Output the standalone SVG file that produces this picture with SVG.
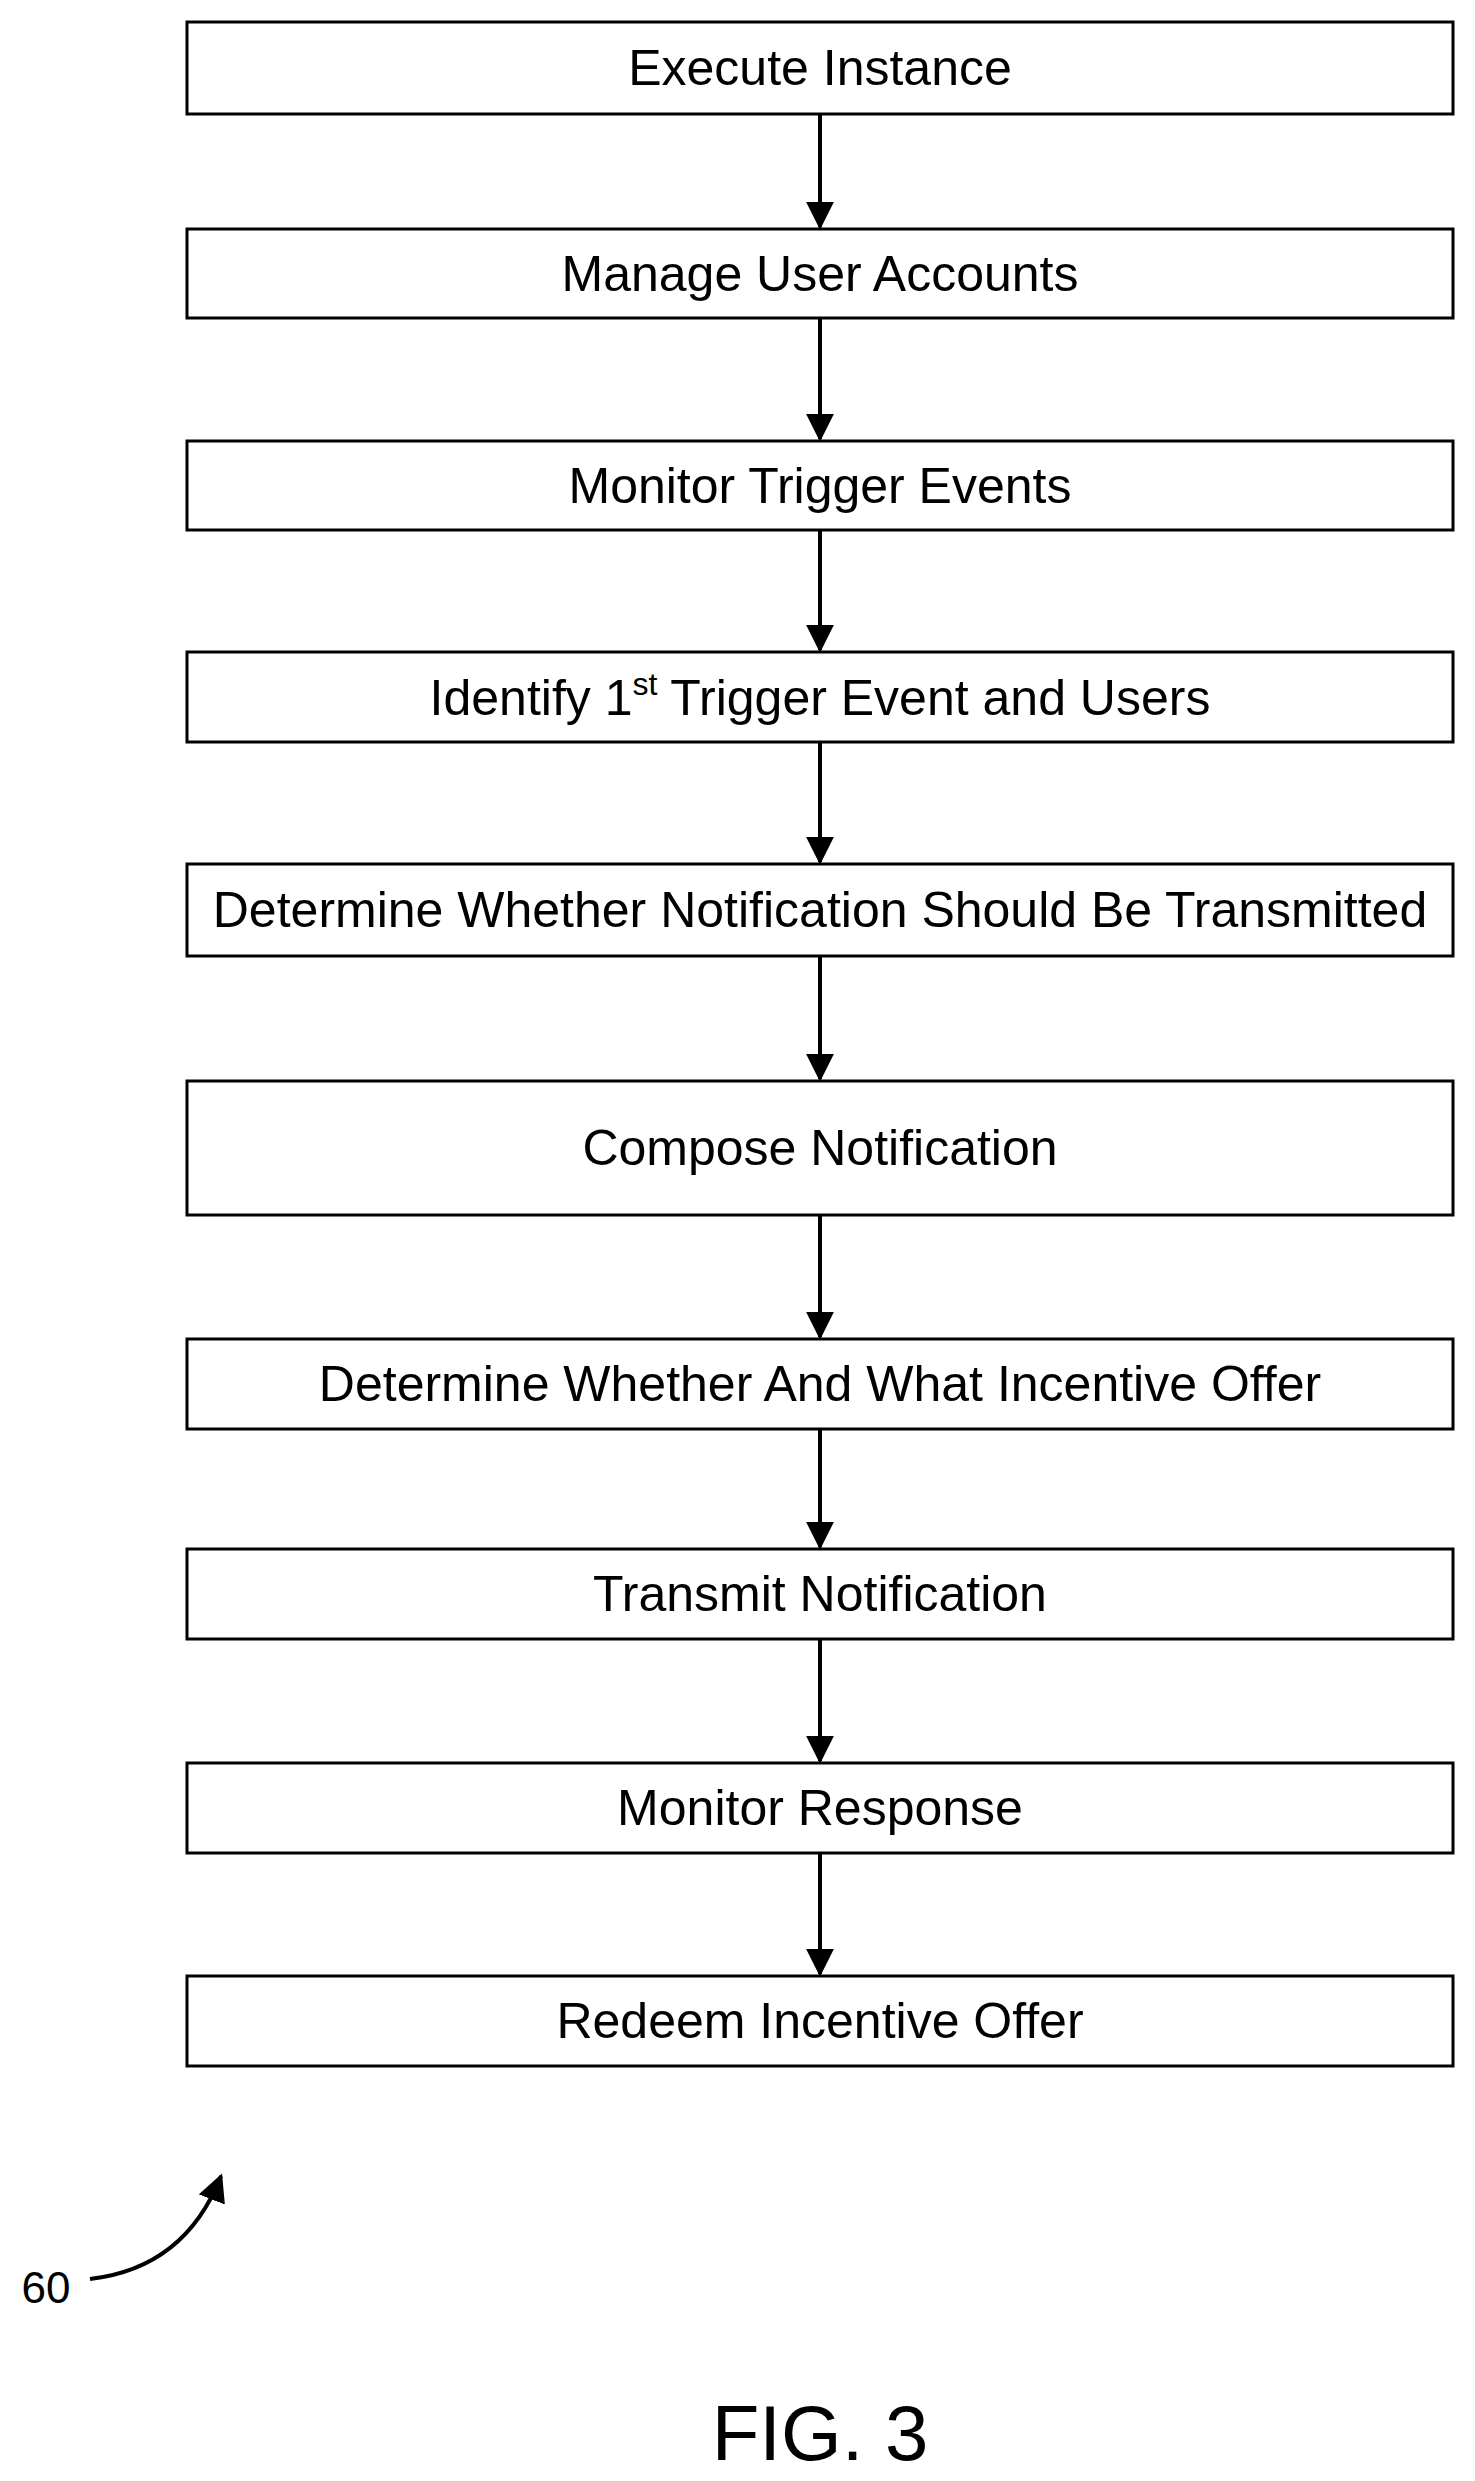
<svg xmlns="http://www.w3.org/2000/svg" width="1475" height="2481" viewBox="0 0 1475 2481">
<style>
.b{fill:#fff;stroke:#000;stroke-width:3}
.t{font-family:"Liberation Sans",Arial,sans-serif;font-size:50px;text-anchor:middle;fill:#000}
.c{stroke:#000;stroke-width:4;fill:none}
</style>
<defs>
<marker id="h" viewBox="0 0 10 10" refX="9" refY="5" markerWidth="28" markerHeight="28" markerUnits="userSpaceOnUse" orient="auto"><path d="M0,0 L10,5 L0,10 z"/></marker></defs>
<rect width="1475" height="2481" fill="#fff"/>
<g id="n1"><rect class="b" x="187" y="22" width="1266" height="92"/><text class="t" x="820" y="85">Execute Instance</text></g>
<g id="n2"><rect class="b" x="187" y="229" width="1266" height="89"/><text class="t" x="820" y="291">Manage User Accounts</text></g>
<g id="n3"><rect class="b" x="187" y="441" width="1266" height="89"/><text class="t" x="820" y="503">Monitor Trigger Events</text></g>
<g id="n4"><rect class="b" x="187" y="652" width="1266" height="90"/><text class="t" x="820" y="715">Identify 1<tspan style="font-size:32px" dy="-20">st</tspan><tspan dy="20"> Trigger Event and Users</tspan></text></g>
<g id="n5"><rect class="b" x="187" y="864" width="1266" height="92"/><text class="t" x="820" y="927">Determine Whether Notification Should Be Transmitted</text></g>
<g id="n6"><rect class="b" x="187" y="1081" width="1266" height="134"/><text class="t" x="820" y="1165">Compose Notification</text></g>
<g id="n7"><rect class="b" x="187" y="1339" width="1266" height="90"/><text class="t" x="820" y="1401">Determine Whether And What Incentive Offer</text></g>
<g id="n8"><rect class="b" x="187" y="1549" width="1266" height="90"/><text class="t" x="820" y="1611">Transmit Notification</text></g>
<g id="n9"><rect class="b" x="187" y="1763" width="1266" height="90"/><text class="t" x="820" y="1825">Monitor Response</text></g>
<g id="n10"><rect class="b" x="187" y="1976" width="1266" height="90"/><text class="t" x="820" y="2038">Redeem Incentive Offer</text></g>
<g id="connectors">
<line class="c" x1="820" y1="114" x2="820" y2="227" marker-end="url(#h)"/>
<line class="c" x1="820" y1="318" x2="820" y2="439" marker-end="url(#h)"/>
<line class="c" x1="820" y1="530" x2="820" y2="650" marker-end="url(#h)"/>
<line class="c" x1="820" y1="742" x2="820" y2="862" marker-end="url(#h)"/>
<line class="c" x1="820" y1="956" x2="820" y2="1079" marker-end="url(#h)"/>
<line class="c" x1="820" y1="1215" x2="820" y2="1337" marker-end="url(#h)"/>
<line class="c" x1="820" y1="1429" x2="820" y2="1547" marker-end="url(#h)"/>
<line class="c" x1="820" y1="1639" x2="820" y2="1761" marker-end="url(#h)"/>
<line class="c" x1="820" y1="1853" x2="820" y2="1974" marker-end="url(#h)"/>
<path class="c" d="M90,2279 Q185,2268 221,2176" marker-end="url(#h)"/>
</g>
<text class="t" x="46" y="2303" style="font-size:44px">60</text>
<text class="t" x="820" y="2460" style="font-size:78px">FIG. 3</text>
</svg>
